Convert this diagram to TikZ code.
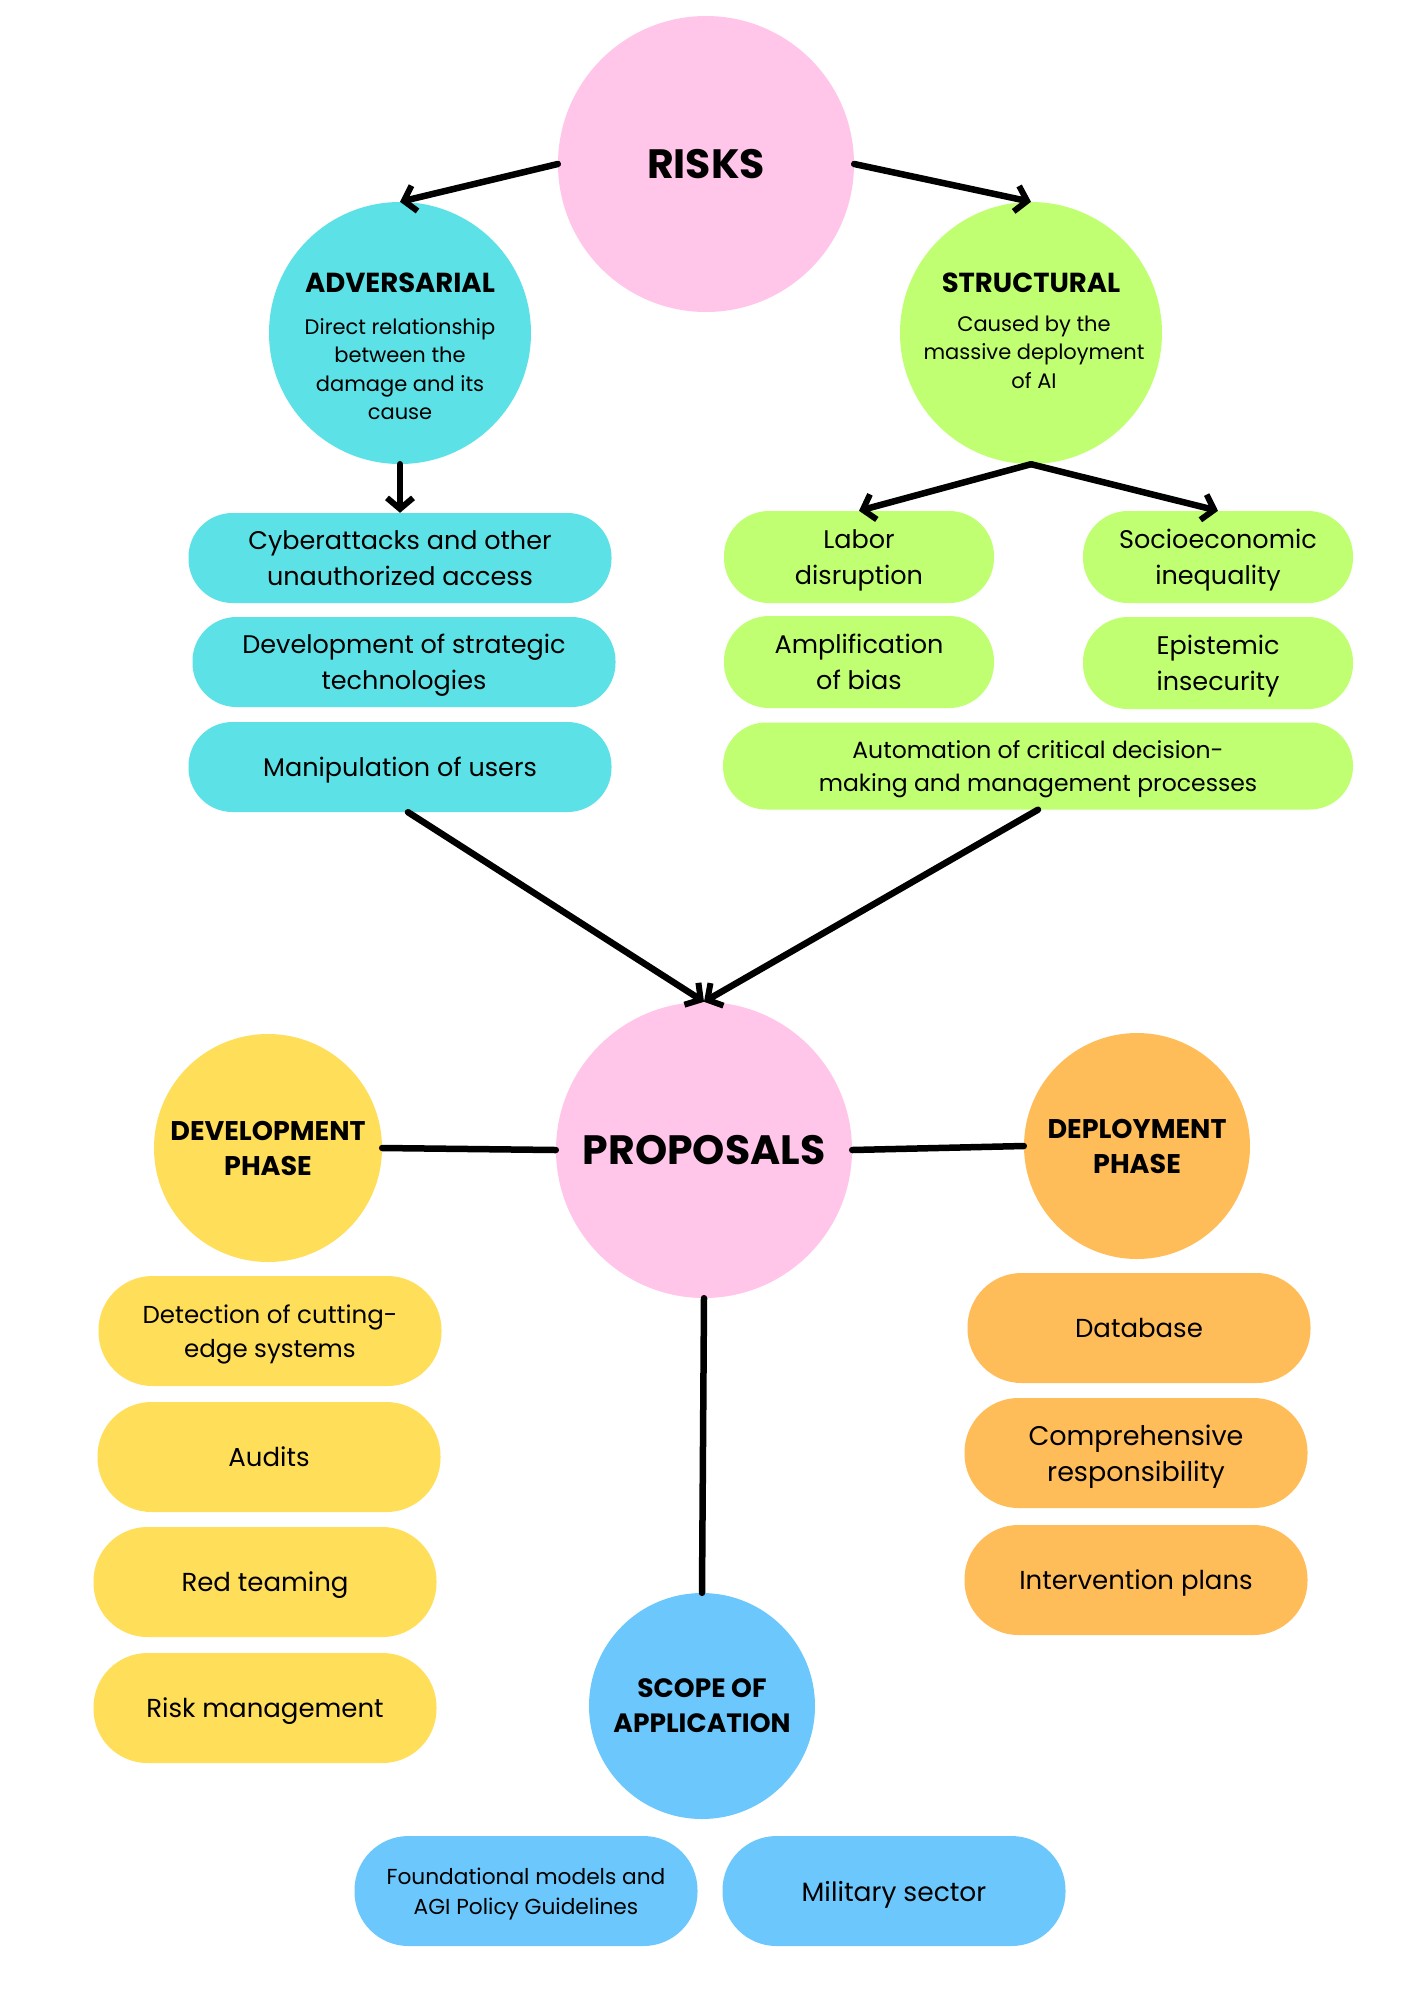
\documentclass[tikz,border=0pt]{standalone}
\usepackage{fontspec}
\setmainfont{Poppins}
\usetikzlibrary{arrows.meta}
\definecolor{pinkc}{HTML}{FFC6E9}
\definecolor{cyanc}{HTML}{5CE1E6}
\definecolor{limec}{HTML}{C1FF72}
\definecolor{yelc}{HTML}{FFDE59}
\definecolor{orac}{HTML}{FFBD59}
\definecolor{bluec}{HTML}{6CC8FC}
\newcommand\myfs[2]{\fontsize{#1}{#2}\selectfont}
\tikzset{
  circ/.style={circle, inner sep=0pt, align=center, text=black},
  ttl/.style={inner sep=0pt, align=center, font=\myfs{27.5}{30}\bfseries},
  sub/.style={inner sep=0pt, align=center, font=\myfs{21}{28.5}},
  pillbase/.style={rectangle, inner sep=0pt, align=center, text depth=0pt},
  pillA/.style={pillbase, rounded corners=44pt, minimum width=423pt, minimum height=90pt, fill=cyanc, font=\myfs{25.5}{36}},
  pillB/.style={pillbase, rounded corners=45pt, minimum width=270pt, minimum height=92pt, fill=limec, font=\myfs{25.5}{36}},
  pillC/.style={pillbase, rounded corners=43pt, minimum width=630pt, minimum height=87pt, fill=limec, font=\myfs{23.5}{32.5}},
  pillD/.style={pillbase, rounded corners=54pt, minimum width=343pt, minimum height=110pt, font=\myfs{26}{36}},
  conn/.style={line width=6.5pt, line cap=round, draw=black},
  arr/.style={conn, -{Straight Barb[length=11pt, width=26pt, line width=6pt]}},
}
\begin{document}
\begin{tikzpicture}[x=1pt, y=-1pt]
\fill[white] (0,0) rectangle (1414,2000);
\useasboundingbox (0,0) rectangle (1414,2000);

% risks level
\node[circ, fill=pinkc, minimum size=296pt, font=\myfs{41}{44}\bfseries] (risks) at (706,164) {RISKS};
\node[circ, fill=cyanc, minimum size=262pt] (adv) at (400,333) {};
\node[ttl] (advt) at (400,283) {ADVERSARIAL};
\node[sub] (advs) at (400,369) {Direct relationship\\between the\\damage and its\\cause};
\node[circ, fill=limec, minimum size=262pt] (str) at (1031,333) {};
\node[ttl] (strt) at (1031,283) {STRUCTURAL};
\node[sub] (strs) at (1034,352) {Caused by the\\massive deployment\\of AI};

\draw[arr] (risks.west) -- (adv.north);
\draw[arr] (risks.east) -- (str.north);

% adversarial pills
\node[pillA] (cyber) at (400,558) {Cyberattacks and other\\unauthorized access};
\node[pillA] (strat) at (404,662) {Development of strategic\\technologies};
\node[pillA] (manip) at (400,767) {Manipulation of users};
\draw[arr] (adv.south) -- (cyber.north);

% structural pills
\node[pillB] (labor) at (859,557) {Labor\\disruption};
\node[pillB] (socio) at (1218,557) {Socioeconomic\\inequality};
\node[pillB] (ampl) at (859,662) {Amplification\\of bias};
\node[pillB] (epis) at (1218,663) {Epistemic\\insecurity};
\node[pillC] (auto) at (1038,766) {Automation of critical decision-\\making and management processes};
\draw[arr] (str.south) -- (labor.north);
\draw[arr] (str.south) -- (socio.north);

% proposals
\node[circ, fill=pinkc, minimum size=296pt, font=\myfs{41}{44}\bfseries] (prop) at (704,1150) {PROPOSALS};
\draw[arr] ([xshift=8pt]manip.south) -- (prop.north);
\draw[arr] (auto.south) -- (prop.north);

\node[circ, fill=yelc, minimum size=228pt, font=\myfs{27}{35}\bfseries] (dev) at (268,1148) {DEVELOPMENT\\PHASE};
\node[circ, fill=orac, minimum size=226pt, font=\myfs{27}{35}\bfseries] (dep) at (1137,1146) {DEPLOYMENT\\PHASE};
\node[circ, fill=bluec, minimum size=226pt, font=\myfs{26.5}{35}\bfseries] (scope) at (702,1706) {SCOPE OF\\APPLICATION};
\draw[conn] (dev.east) -- (prop.west);
\draw[conn] (prop.east) -- (dep.west);
\draw[conn] (prop.south) -- (scope.north);

% development pills
\node[pillD, fill=yelc, font=\myfs{24.5}{34.5}] (detect) at (270,1331) {Detection of cutting-\\edge systems};
\node[pillD, fill=yelc] (audit) at (269,1457) {Audits};
\node[pillD, fill=yelc] (red) at (265,1582) {Red teaming};
\node[pillD, fill=yelc] (riskm) at (265,1708) {Risk management};

% deployment pills
\node[pillD, fill=orac] (db) at (1139,1328) {Database};
\node[pillD, fill=orac, font=\myfs{27}{36.5}] (comp) at (1136,1453) {Comprehensive\\responsibility};
\node[pillD, fill=orac] (interv) at (1136,1580) {Intervention plans};

% scope pills
\node[pillD, fill=bluec, font=\myfs{21.7}{30.5}] (found) at (526,1891) {Foundational models and\\AGI Policy Guidelines};
\node[pillD, fill=bluec, font=\myfs{26.5}{36}] (mil) at (894,1891) {Military sector};
\end{tikzpicture}
\end{document}
